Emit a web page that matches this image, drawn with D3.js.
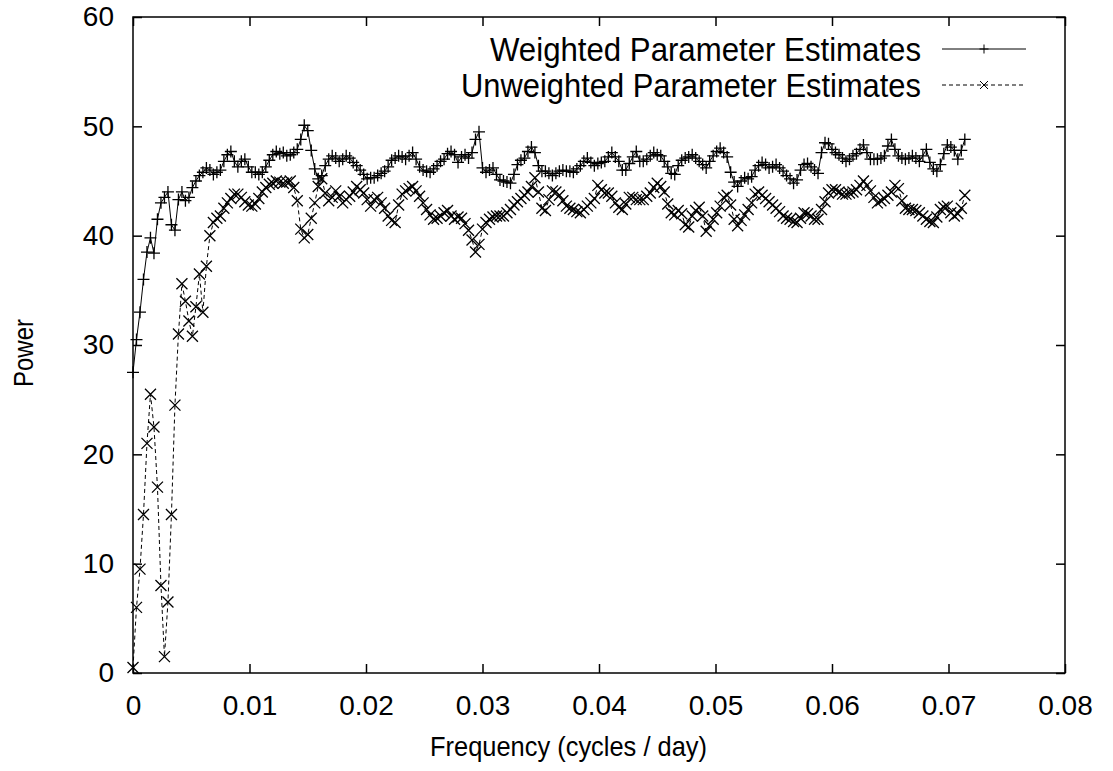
<!DOCTYPE html>
<html>
<head>
<meta charset="utf-8">
<script src="https://cdn.jsdelivr.net/npm/d3@7"></script>
<style>
  body { margin: 0; background: #fff; }
  text { font-family: "Liberation Sans", Arial, Helvetica, sans-serif; fill: #000; }
</style>
</head>
<body>
<svg width="1113" height="771"></svg>
<script>
// frequency spacing between samples (cycles / day)
const freqStep = 0.0003;

const weighted = [
  27.5, 30.5, 33, 36, 38.5, 39.8, 38.4, 41.5, 43, 43.5,
  44, 41, 40.5, 43.3, 44, 43.2, 43.5, 44.4, 45, 45.5,
  45.8, 46.2, 46, 45.6, 45.8, 46, 46.8, 47.4, 47.7, 46.8,
  46.3, 46.8, 47, 46.3, 45.8, 45.8, 45.6, 45.8, 46.3, 46.9,
  47.4, 47.7, 47.5, 47.6, 47.3, 47.4, 47.6, 47.9, 48.8, 50.1,
  49.6, 47.8, 46.1, 45.2, 45.5, 46.4, 47, 47.3, 47.1, 46.8,
  47, 47.3, 47.1, 46.7, 46.4, 46, 45.6, 45.2, 45.3, 45.3,
  45.5, 45.7, 45.9, 46.3, 46.9, 47.1, 47.3, 47.2, 47, 47.3,
  47.6, 47, 46.3, 46, 45.9, 45.8, 46.1, 46.4, 46.8, 47,
  47.5, 47.7, 47.4, 46.7, 47.2, 47.4, 47.1, 47.6, 48.8, 49.5,
  46.2, 45.8, 46, 46.2, 45.6, 45.1, 45, 44.9, 44.8, 45.6,
  46.5, 46.9, 47.1, 47.7, 48.1, 47.6, 46.4, 45.9, 45.9, 45.7,
  45.5, 45.7, 45.9, 46, 45.9, 45.9, 45.8, 46.1, 46.4, 46.8,
  47.1, 46.7, 46.4, 46.6, 46.7, 46.8, 47.2, 47.6, 47.2, 46.8,
  46, 46, 46.6, 47.2, 47.7, 46.8, 46.8, 47, 47.3, 47.6,
  47.4, 47.3, 46.8, 46.3, 45.7, 45.6, 46.4, 46.9, 47.1, 47.2,
  47.4, 47.1, 46.8, 46.5, 46.2, 46.8, 47.3, 47.7, 48, 47.6,
  47.2, 45.8, 44.9, 44.5, 45, 45.3, 45.2, 45.4, 46, 46.4,
  46.7, 46.5, 46.2, 46.3, 46.5, 46.2, 45.9, 45.5, 45.2, 44.8,
  45.1, 46, 46.5, 46.6, 46.3, 46, 45.7, 47.6, 48.5, 48.4,
  47.9, 47.6, 47.4, 47.1, 46.8, 47, 47.3, 47.5, 47.9, 48.3,
  47.6, 47, 47, 47, 47.1, 47.3, 48.2, 48.8, 47.9, 47.3,
  47.1, 47, 47.1, 47.3, 47.1, 46.8, 47.3, 47.9, 46.7, 46.1,
  45.9, 46.5, 47.5, 48.3, 48.1, 47.8, 47, 47.8, 48.8
];

const unweighted = [
  0.5, 6, 9.5, 14.5, 21, 25.5, 22.5, 17, 8, 1.5,
  6.5, 14.5, 24.5, 31, 35.6, 34, 32.2, 30.8, 33.5, 36.5,
  33, 37.2, 40, 41.2, 41.6, 41.8, 42.5, 43, 43.4, 43.8,
  43.8, 43.5, 43.1, 42.8, 42.7, 42.9, 43.4, 44, 44.4, 44.7,
  44.8, 45, 44.9, 44.8, 44.9, 45, 44.4, 43.2, 40.6, 39.8,
  40.1, 41.6, 43, 44.5, 45.2, 43.9, 43.2, 43.5, 44.1, 43.6,
  43, 43.3, 43.6, 44, 44.5, 44.2, 43.9, 43.3, 42.7, 43.3,
  43.5, 43, 42.5, 41.8, 41.4, 41.2, 42.8, 43.8, 44.1, 44.3,
  44.5, 44.1, 43.6, 43, 42.4, 41.9, 41.5, 41.6, 41.8, 42.1,
  42.3, 41.8, 41.5, 41.7, 41.6, 41.1, 40.5, 39.6, 38.5, 39.2,
  40.6, 41.2, 41.5, 41.7, 41.8, 41.8, 41.8, 42.1, 42.4, 42.8,
  43.1, 43.4, 43.7, 44, 44.5, 45.3, 44, 42.5, 42.3, 43.3,
  44.1, 44, 43.7, 43.2, 42.7, 42.5, 42.4, 42.2, 42.1, 42.4,
  42.7, 43, 43.4, 44.6, 44.2, 43.9, 43.9, 43.6, 43, 42.6,
  42.4, 42.9, 43.5, 43.5, 43.3, 43.3, 43.3, 43.6, 43.9, 44.4,
  44.8, 44.5, 44, 42.9, 42.1, 41.9, 42.3, 42, 41, 40.8,
  41.8, 42.3, 42.6, 41.8, 40.4, 40.9, 41.5, 42.1, 42.7, 43.5,
  43.7, 42.8, 41.5, 40.9, 41.4, 41.9, 42.4, 43, 43.8, 44,
  43.7, 43.4, 43.1, 42.8, 42.5, 42.2, 41.8, 41.6, 41.5, 41.3,
  41.2, 41.6, 42.1, 42, 41.8, 41.5, 41.5, 42.4, 43.1, 43.9,
  44.2, 44.2, 44, 43.8, 43.8, 43.9, 44, 44.2, 44.6, 45,
  44.6, 44.1, 43.5, 43, 43.2, 43.4, 43.7, 44, 44.6, 44.3,
  43.2, 42.5, 42.4, 42.4, 42.3, 42.1, 41.8, 41.5, 41.3, 41.2,
  41.7, 42.4, 42.6, 42.7, 42.1, 41.8, 42, 42.5, 43.7
];

const xTicks = [0, 0.01, 0.02, 0.03, 0.04, 0.05, 0.06, 0.07, 0.08];
const yTicks = [0, 10, 20, 30, 40, 50, 60];
const seriesNames = ["Weighted Parameter Estimates", "Unweighted Parameter Estimates"];

const svg = d3.select("svg");
const margin = { left: 133, right: 1065, top: 17, bottom: 673 };

const x = d3.scaleLinear().domain([0, 0.08]).range([margin.left, margin.right]);
const y = d3.scaleLinear().domain([0, 60]).range([margin.bottom, margin.top]);

const fmtX = d => (d === 0 ? "0" : d3.format(".2f")(d));

// axes with inward ticks, mirrored on top and right
svg.append("g")
  .attr("transform", "translate(0," + margin.bottom + ")")
  .call(d3.axisBottom(x).tickValues(xTicks).tickFormat(fmtX).tickSize(-9).tickPadding(22));
svg.append("g")
  .attr("transform", "translate(0," + margin.top + ")")
  .call(d3.axisTop(x).tickValues(xTicks).tickFormat("").tickSize(-9));
svg.append("g")
  .attr("transform", "translate(" + margin.left + ",0)")
  .call(d3.axisLeft(y).tickValues(yTicks).tickSize(-9).tickPadding(19));
svg.append("g")
  .attr("transform", "translate(" + margin.right + ",0)")
  .call(d3.axisRight(y).tickValues(yTicks).tickFormat("").tickSize(-9));

svg.selectAll(".domain").remove();
svg.selectAll(".tick line").attr("stroke", "#000").attr("stroke-width", 1.5);
svg.selectAll(".tick text").style("font-size", "28px")
  .style("font-family", "'Liberation Sans', Arial, sans-serif").attr("fill", "#000");

svg.append("rect")
  .attr("x", margin.left).attr("y", margin.top)
  .attr("width", margin.right - margin.left)
  .attr("height", margin.bottom - margin.top)
  .attr("fill", "none").attr("stroke", "#000").attr("stroke-width", 1.5);

// axis titles (the source font is a bit narrower than Liberation Sans)
svg.append("text")
  .attr("x", 430)
  .attr("y", 756)
  .attr("textLength", 277)
  .attr("lengthAdjust", "spacingAndGlyphs")
  .style("font-size", "28px")
  .text("Frequency (cycles / day)");

svg.append("text")
  .attr("transform", "translate(33,353) rotate(-90)")
  .attr("x", -34)
  .attr("textLength", 68)
  .attr("lengthAdjust", "spacingAndGlyphs")
  .style("font-size", "28px")
  .text("Power");

// markers
const plusPath = "M-6,0H6M0,-6V6";
const crossPath = "M-5.5,-5.5L5.5,5.5M-5.5,5.5L5.5,-5.5";
const plusKey = "M-4.5,0H4.5M0,-4.5V4.5";
const crossKey = "M-4,-4L4,4M-4,4L4,-4";

const line = d3.line()
  .x((d, i) => x(i * freqStep))
  .y(d => y(d));

const series = [
  { name: seriesNames[0], values: weighted, dash: null, marker: plusPath, key: plusKey, width: 431 },
  { name: seriesNames[1], values: unweighted, dash: "4,3", marker: crossPath, key: crossKey, width: 460 }
];

series.forEach(function (s, k) {
  const g = svg.append("g");
  g.append("path")
    .datum(s.values)
    .attr("d", line)
    .attr("fill", "none")
    .attr("stroke", "#000")
    .attr("stroke-width", 1)
    .attr("stroke-dasharray", s.dash);

  g.selectAll("path.pt")
    .data(s.values)
    .enter()
    .append("path")
    .attr("class", "pt")
    .attr("d", s.marker)
    .attr("transform", (d, i) => "translate(" + x(i * freqStep) + "," + y(d) + ")")
    .attr("fill", "none")
    .attr("stroke", "#000")
    .attr("stroke-width", 1.3);

  // legend entry
  const ly = 49 + k * 36;
  svg.append("text")
    .attr("x", 921 - s.width)
    .attr("y", ly + 12)
    .attr("textLength", s.width)
    .attr("lengthAdjust", "spacingAndGlyphs")
    .style("font-size", "33px")
    .text(s.name);
  svg.append("line")
    .attr("x1", 942).attr("x2", 1026)
    .attr("y1", ly).attr("y2", ly)
    .attr("stroke", "#000").attr("stroke-width", 1)
    .attr("stroke-dasharray", s.dash);
  svg.append("path")
    .attr("d", s.key)
    .attr("transform", "translate(984," + ly + ")")
    .attr("fill", "none").attr("stroke", "#000").attr("stroke-width", 1);
});
</script>
</body>
</html>
